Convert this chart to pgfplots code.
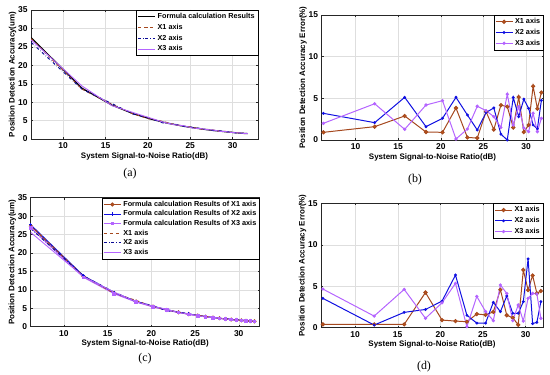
\documentclass[border=0pt]{standalone}
\usepackage{fontspec}
\setmainfont{Liberation Sans}
\newfontfamily\serif{Liberation Serif}
\usepackage{pgfplots}
\usepackage{pgfplotstable}
\pgfplotsset{compat=1.18}
\definecolor{cbrown}{RGB}{165,72,30}
\definecolor{cblue}{RGB}{15,15,225}
\definecolor{cnavy}{RGB}{10,10,150}
\definecolor{cpurple}{RGB}{180,100,255}
\definecolor{gridc}{RGB}{222,222,222}

\pgfplotstableread{
snr F X1 X2 X3
6.22 27.5 27.2 26.2 26.9
12.24 13.75 13.5 13.5 14.35
15.76 9.17 9.4 9.6 9.05
18.26 6.88 6.8 6.77 7.17
20.20 5.50 5.45 5.64 5.76
21.78 4.58 4.76 4.35 4.59
23.12 3.93 3.92 4.05 3.88
24.28 3.44 3.43 3.40 3.58
25.31 3.06 3.16 3.16 2.95
26.22 2.75 2.72 2.86 2.83
27.05 2.50 2.60 2.48 2.54
27.80 2.29 2.38 2.29 2.42
28.50 2.12 2.09 2.23 2.08
29.14 1.96 2.06 2.01 2.04
29.74 1.83 1.81 1.92 1.80
30.30 1.72 1.75 1.65 1.70
30.83 1.62 1.72 1.59 1.67
31.33 1.53 1.47 1.51 1.51
31.80 1.45 1.53 1.52 1.49
}\tabA

\pgfplotstableread{
snr e1 e2 e3
6.22 0.92 3.2 2.0
12.24 1.6 2.08 4.35
15.76 2.88 5.12 1.28
18.26 0.96 1.6 4.2
20.20 0.92 2.6 4.72
21.78 3.84 5.12 0.12
23.12 0.3 3.0 1.32
24.28 0.24 1.2 4.05
25.31 3.4 3.3 3.52
26.22 1.25 3.85 2.8
27.05 4.18 0.7 1.5
27.80 4.0 0.0 5.5
28.50 1.5 5.1 1.8
29.14 5.15 2.8 4.0
29.74 0.95 4.9 1.45
30.30 1.8 3.8 1.0
30.83 6.45 1.8 3.2
31.33 3.75 1.35 1.0
31.80 5.7 4.75 2.6
}\tabB

\pgfplotstableread{
snr f1 f2 f3 m1 m2 m3
6.22 27.3 27.6 26.8 27.41 26.62 25.55
12.24 13.65 13.8 13.4 13.70 13.76 13.59
15.76 9.10 9.20 8.93 9.06 9.37 9.34
18.26 6.83 6.90 6.70 7.12 6.75 6.78
20.20 5.46 5.52 5.36 5.41 5.70 5.52
21.78 4.55 4.60 4.47 4.59 4.31 4.71
23.12 3.90 3.94 3.83 3.93 4.00 3.83
24.28 3.41 3.45 3.35 3.36 3.43 3.48
25.31 3.03 3.07 2.98 3.08 3.09 2.92
26.22 2.73 2.76 2.68 2.78 2.68 2.70
27.05 2.48 2.51 2.44 2.59 2.56 2.57
27.80 2.28 2.30 2.23 2.25 2.21 2.32
28.50 2.10 2.12 2.06 2.12 2.16 2.04
29.14 1.95 1.97 1.91 1.96 1.94 1.96
29.74 1.82 1.84 1.79 1.95 1.90 1.80
30.30 1.71 1.73 1.68 1.63 1.87 1.74
30.83 1.61 1.62 1.58 1.71 1.63 1.65
31.33 1.52 1.53 1.49 1.46 1.52 1.55
31.80 1.44 1.45 1.41 1.50 1.50 1.43
}\tabC

\pgfplotstableread{
snr e1 e2 e3
6.22 0.4 3.54 4.66
12.24 0.4 0.32 1.4
15.76 0.4 1.85 4.62
18.26 4.24 2.2 1.13
20.20 0.92 3.2 3.0
21.78 0.8 6.35 5.35
23.12 0.72 1.5 0.12
24.28 1.65 0.55 3.77
25.31 1.55 0.55 1.95
26.22 1.9 3.06 0.85
27.05 4.58 1.93 5.15
27.80 1.5 3.82 4.12
28.50 1.2 1.73 0.85
29.14 0.35 1.73 2.74
29.74 6.96 3.14 0.8
30.30 4.54 8.3 3.54
30.83 6.3 0.5 4.14
31.33 4.14 0.64 4.06
31.80 4.42 3.14 1.13
}\tabD

\pgfplotsset{
  base/.style={
    scale only axis,
    anchor=south west,
    tick align=inside,
    xtick pos=both, ytick pos=both,
    major tick length=2bp,
    axis line style={black!85, line width=0.5pt},
    every tick/.style={black!85, line width=0.4pt},
    grid=major,
    major grid style={gridc, line width=0.4pt},
    ticklabel style={font=\bfseries\fontsize{8.5}{9}\selectfont},
    /pgf/number format/assume math mode=true,
    label style={font=\bfseries\fontsize{8}{8.5}\selectfont},
    xlabel={System Signal-to-Noise Ratio(dB)},
    xtick={10,15,20,25,30},
    xlabel style={yshift=3bp},
    ylabel style={yshift=-5bp},
    legend cell align=left,
    legend style={font=\bfseries\fontsize{7.3}{8.5}\selectfont, draw=black,
      at={(1,1)}, anchor=north east, inner sep=1.2pt, row sep=0pt,
      /tikz/every even column/.append style={column sep=1pt}},
  },
}

\begin{document}
\begin{tikzpicture}
\useasboundingbox (0,0) rectangle (550bp,375bp);

% (a)
\begin{axis}[base, at={(31bp,236bp)}, width=227bp, height=129bp,
  xmin=6.2, xmax=33, ymin=0, ymax=35, ytick={0,5,...,35},
  ylabel={Position Detection Accuracy(um)}]
\addplot[black, line width=1.2pt] table[x=snr,y=F]{\tabA};
\addlegendentry{Formula calculation Results}
\addplot[cbrown, dashed, line width=1pt] table[x=snr,y=X1]{\tabA};
\addlegendentry{X1 axis}
\addplot[cnavy, dash dot, line width=1pt] table[x=snr,y=X2]{\tabA};
\addlegendentry{X2 axis}
\addplot[cpurple, line width=0.9pt] table[x=snr,y=X3]{\tabA};
\addlegendentry{X3 axis}
\end{axis}

% (b)
\begin{axis}[base, at={(321.5bp,235bp)}, width=222bp, height=125bp,
  xmin=6, xmax=32.05, ymin=0, ymax=15, ytick={0,5,10,15},
  ylabel={Position Detection Accuracy Error(\%)}]
\addplot[cbrown, line width=1pt, mark=*, mark size=1.6pt, mark options={fill=cbrown!60!orange, draw=cbrown}] table[x=snr,y=e1]{\tabB};
\addlegendentry{X1 axis}
\addplot[cblue, line width=1pt, mark=*, mark size=0.9pt] table[x=snr,y=e2]{\tabB};
\addlegendentry{X2 axis}
\addplot[cpurple, line width=1pt, mark=*, mark size=1.1pt] table[x=snr,y=e3]{\tabB};
\addlegendentry{X3 axis}
\end{axis}

% (c)
\begin{axis}[base, at={(30.7bp,48.3bp)}, width=229bp, height=129bp,
  xmin=6.2, xmax=32.4, ymin=0, ymax=35, ytick={0,5,...,35},
  ylabel={Position Detection Accuracy(um)},
  legend style={row sep=-1.2pt}]
\addplot[cbrown, line width=1pt, mark=*, mark size=1.5pt, mark options={fill=cbrown!60!orange, draw=cbrown}] table[x=snr,y=f1]{\tabC};
\addlegendentry{Formula calculation Results of X1 axis}
\addplot[cblue, line width=1pt, mark=+, mark size=1.6pt] table[x=snr,y=f2]{\tabC};
\addlegendentry{Formula calculation Results of X2 axis}
\addplot[cpurple, line width=1pt, mark=square*, mark size=1.3pt] table[x=snr,y=f3]{\tabC};
\addlegendentry{Formula calculation Results of X3 axis}
\addplot[cbrown, dashed, line width=1pt] table[x=snr,y=m1]{\tabC};
\addlegendentry{X1 axis}
\addplot[cnavy, dash dot, line width=1pt] table[x=snr,y=m2]{\tabC};
\addlegendentry{X2 axis}
\addplot[cpurple, line width=0.9pt] table[x=snr,y=m3]{\tabC};
\addlegendentry{X3 axis}
\end{axis}

% (d)
\begin{axis}[base, at={(321bp,47.3bp)}, width=222bp, height=124.4bp,
  xmin=6, xmax=32.05, ymin=0, ymax=15, ytick={0,5,10,15},
  ylabel={Position Detection Accuracy Error(\%)}]
\addplot[cbrown, line width=1pt, mark=*, mark size=1.6pt, mark options={fill=cbrown!60!orange, draw=cbrown}] table[x=snr,y=e1]{\tabD};
\addlegendentry{X1 axis}
\addplot[cblue, line width=1pt, mark=*, mark size=0.9pt] table[x=snr,y=e2]{\tabD};
\addlegendentry{X2 axis}
\addplot[cpurple, line width=1pt, mark=*, mark size=1.1pt] table[x=snr,y=e3]{\tabD};
\addlegendentry{X3 axis}
\end{axis}

\node[font=\serif\fontsize{12}{14}\selectfont] at (130bp,201bp) {(a)};
\node[font=\serif\fontsize{12}{14}\selectfont] at (415bp,195bp) {(b)};
\node[font=\serif\fontsize{12}{14}\selectfont] at (145bp,16bp) {(c)};
\node[font=\serif\fontsize{12}{14}\selectfont] at (424bp,8bp) {(d)};
\end{tikzpicture}
\end{document}
